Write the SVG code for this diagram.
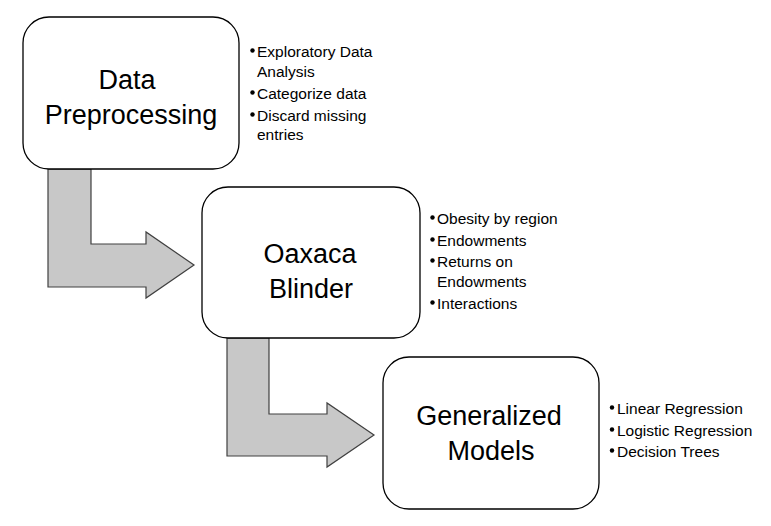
<svg xmlns="http://www.w3.org/2000/svg" width="771" height="526" viewBox="0 0 771 526">
<style>
.box{fill:#fff;stroke:#000;stroke-width:1.3}
.arr{fill:#c8c8c8;stroke:#404040;stroke-width:1.2;stroke-linejoin:miter}
.title{font-family:"Liberation Sans",Arial,sans-serif;font-size:27px;fill:#000;text-anchor:middle}
.bul{font-family:"Liberation Sans",Arial,sans-serif;font-size:15.5px;fill:#000}
.dot{fill:#000}
</style>
<rect width="771" height="526" fill="#fff"/>
<g id="connectors">
<path class="arr" d="M48,169 L91,169 L91,244 L146,244 L146,232 L194,265 L146,298 L146,287 L48,287 Z"/>
<path class="arr" d="M227,338 L269,338 L269,414 L327,414 L327,403 L374,435 L327,467 L327,456 L227,456 Z"/>
</g>
<g id="node-data-preprocessing">
<rect class="box" x="23" y="17" width="216" height="152" rx="26" ry="26"/>
<text class="title" x="127" y="89">Data</text>
<text class="title" x="131" y="124">Preprocessing</text>
<g id="list-1">
<circle class="dot" cx="252.5" cy="50.5" r="2.2"/>
<text class="bul" x="257" y="57">Exploratory Data</text>
<text class="bul" x="257" y="76.5">Analysis</text>
<circle class="dot" cx="252.5" cy="92.5" r="2.2"/>
<text class="bul" x="257" y="99">Categorize data</text>
<circle class="dot" cx="252.5" cy="114.5" r="2.2"/>
<text class="bul" x="257" y="121">Discard missing</text>
<text class="bul" x="257" y="140">entries</text>
</g>
</g>
<g id="node-oaxaca-blinder">
<rect class="box" x="202" y="187" width="218" height="151" rx="26" ry="26"/>
<text class="title" x="310" y="263">Oaxaca</text>
<text class="title" x="311" y="298">Blinder</text>
<g id="list-2">
<circle class="dot" cx="432.5" cy="217.5" r="2.2"/>
<text class="bul" x="437" y="224">Obesity by region</text>
<circle class="dot" cx="432.5" cy="239.5" r="2.2"/>
<text class="bul" x="437" y="246">Endowments</text>
<circle class="dot" cx="432.5" cy="260.5" r="2.2"/>
<text class="bul" x="437" y="267">Returns on</text>
<text class="bul" x="437" y="287">Endowments</text>
<circle class="dot" cx="432.5" cy="302.5" r="2.2"/>
<text class="bul" x="437" y="309">Interactions</text>
</g>
</g>
<g id="node-generalized-models">
<rect class="box" x="383" y="357" width="216" height="152" rx="26" ry="26"/>
<text class="title" x="489" y="425">Generalized</text>
<text class="title" x="491" y="460">Models</text>
<g id="list-3">
<circle class="dot" cx="612" cy="407.5" r="2.2"/>
<text class="bul" x="617" y="414">Linear Regression</text>
<circle class="dot" cx="612" cy="429.5" r="2.2"/>
<text class="bul" x="617" y="436">Logistic Regression</text>
<circle class="dot" cx="612" cy="450.5" r="2.2"/>
<text class="bul" x="617" y="457">Decision Trees</text>
</g>
</g>
</svg>
